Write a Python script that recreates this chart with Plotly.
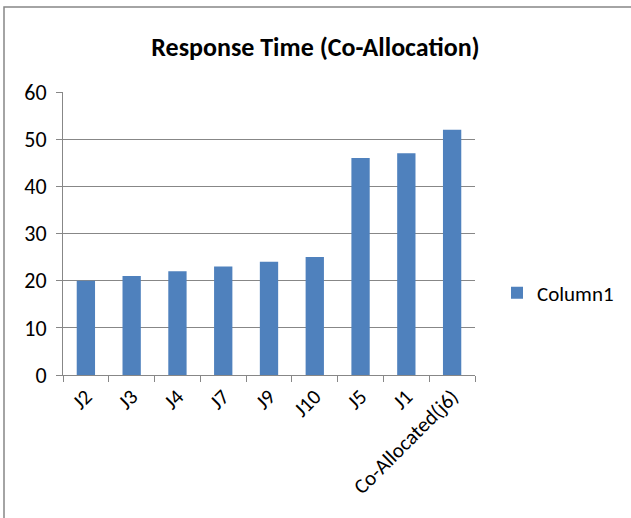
import plotly.graph_objects as go

categories = ["J2", "J3", "J4", "J7", "J9", "J10", "J5", "J1", "Co-Allocated(j6)"]
values = [20, 21, 22, 23, 24, 25, 46, 47, 52]
series_name = "Column1"
title_text = "Response Time (Co-Allocation)"
y_ticks = [0, 10, 20, 30, 40, 50, 60]

W, H = 631, 518
L, R, T, B = 63, 156, 92, 143
pw, ph = W - L - R, H - T - B

FONT = "Carlito, Lato, Calibri, sans-serif"
GRID = "#878787"

fig = go.Figure(go.Bar(
    x=categories, y=values, name=series_name,
    marker=dict(color="#4F81BD", line=dict(width=0)),
    showlegend=True,
))

fig.update_layout(
    width=W, height=H,
    margin=dict(l=L, r=R, t=T, b=B, pad=0, autoexpand=False),
    paper_bgcolor="white", plot_bgcolor="white",
    bargap=0.6,
    font=dict(family=FONT, size=21, color="black"),
    title=dict(text="<b>" + title_text + "</b>", x=0.5, xref="container",
               y=1 - 47 / H, yref="container", yanchor="middle", xanchor="center",
               font=dict(family=FONT, size=26, color="black")),
    xaxis=dict(
        type="category", tickangle=-45, showgrid=False, automargin=False,
        showline=True, linecolor=GRID, linewidth=1,
        ticks="outside", ticklen=6, tickcolor=GRID, tickson="boundaries",
        tickfont=dict(family=FONT, size=21),
    ),
    yaxis=dict(
        range=[0, 60], tickvals=y_ticks, showgrid=True, gridcolor=GRID, gridwidth=1,
        showline=True, linecolor=GRID, linewidth=1, automargin=False,
        ticks="outside", ticklen=6, tickcolor=GRID, ticklabelstandoff=5,
        tickfont=dict(family=FONT, size=22), zeroline=False,
    ),
    legend=dict(x=(497 - L) / pw, y=(375 - 293) / ph, xanchor="left", yanchor="middle",
                itemwidth=30,
                font=dict(family=FONT, size=21), bgcolor="rgba(0,0,0,0)"),
)

# chart border (top and left visible; right/bottom outside picture)
x0 = (4 - L) / pw
y1 = (H - 7 - B) / ph
fig.add_shape(type="rect", xref="paper", yref="paper",
              x0=x0, x1=(W + 40 - L) / pw, y0=(-40 - B) / ph, y1=y1,
              line=dict(color="#868686", width=1.5), layer="below")

fig.write_html("out.html")
